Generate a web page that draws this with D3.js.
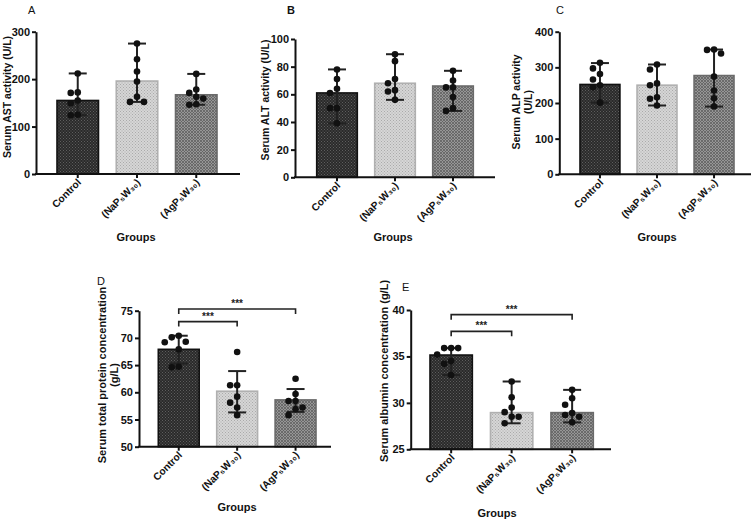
<!DOCTYPE html>
<html><head><meta charset="utf-8">
<script src="https://cdn.jsdelivr.net/npm/d3@7"></script>
<style>body{margin:0;background:#fff}svg{display:block}text{font-family:"Liberation Sans",Arial,sans-serif}</style>
</head><body>
<svg id="c" width="756" height="523"></svg>
<script>
const groups = ["Control", "(NaP\u2085W\u2083\u2080)", "(AgP\u2085W\u2083\u2080)"];

const astMean = [155, 196, 167];
const astPoints = [[212,172,171,155,149,125,124],[275,242,216,195,163,152,152],[211,178,171,163,159,147,146]];
const astErr = [[124,212],[152,275],[146,211]];
const astTicks = [0,100,200,300];

const altMean = [61, 68, 66];
const altPoints = [[78,71,64,61,50,50,39],[89,84,71,68,63,62,56],[77,70,65,65,58,50,48]];
const altErr = [[39,78],[56,89],[48,77]];
const altTicks = [0,20,40,60,80,100];

const alpMean = [252, 250, 277];
const alpPoints = [[313,297,281,266,250,244,201],[308,294,255,250,216,212,193],[350,349,339,274,235,213,190]];
const alpErr = [[201,312],[193,308],[190,350]];
const alpTicks = [0,100,200,300,400];

const tpMean = [67.9, 60.2, 58.6];
const tpPoints = [[70.4,70.1,69.3,69.2,67.9,64.7,64.6],[67.4,61.3,61.3,59.2,58.1,57.2,55.8],[62.5,59.7,58.4,58.4,57.2,56.9,55.8]];
const tpErr = [[65.3,70.4],[56.3,63.9],[56.4,60.6]];
const tpTicks = [50,55,60,65,70,75];
const tpSig = [[0,2,75.3],[0,1,73.0]];

const albMean = [35.15, 28.95, 28.95];
const albPoints = [[35.9,35.9,35.9,35.2,34.5,34.2,33.0],[32.3,30.6,29.5,29.0,28.5,28.5,27.8],[31.4,30.5,29.8,28.9,28.7,28.5,27.9]];
const albErr = [[33.0,35.9],[27.8,32.3],[27.9,31.4]];
const albTicks = [25,30,35,40];
const albSig = [[0,2,39.5],[0,1,37.7]];

const svg = d3.select("#c");
const defs = svg.append("defs");
function mkPat(id, bg, fg, type){
  const p = defs.append("pattern").attr("id", id).attr("patternUnits","userSpaceOnUse").attr("width",3).attr("height",3);
  p.append("rect").attr("width",3).attr("height",3).attr("fill",bg);
  if(type==="dot"){
    p.append("rect").attr("x",0).attr("y",0).attr("width",1).attr("height",1).attr("fill",fg);
    p.append("rect").attr("x",1.5).attr("y",1.5).attr("width",1).attr("height",1).attr("fill",fg);
  } else {
    p.append("path").attr("d","M0,0L3,3M3,0L0,3").attr("stroke",fg).attr("stroke-width",0.8);
  }
}
mkPat("p0","#2a2a2a","#5e5e5e","dot");
mkPat("p1","#d6d6d6","#aaaaaa","dot");
mkPat("p2","#969696","#606060","x");
const fills = ["url(#p0)","url(#p1)","url(#p2)"];
const strokes = ["#111","#b0b0b0","#6a6a6a"];

function panel(cfg){
  const g = svg.append("g");
  const y = d3.scaleLinear().domain(cfg.domain).range(cfg.yr);
  const x = d3.scaleBand().domain(groups).range(cfg.br).paddingInner(0.3).paddingOuter(0);
  const bw = x.bandwidth();
  g.selectAll(".bar").data(cfg.mean).join("rect")
    .attr("x",(d,i)=>x(groups[i])).attr("width",bw)
    .attr("y",d=>y(d)).attr("height",d=>y(cfg.domain[0])-y(d))
    .attr("fill",(d,i)=>fills[i]).attr("stroke",(d,i)=>strokes[i]).attr("stroke-width",1.6);
  cfg.err.forEach((e,i)=>{
    const cx = x(groups[i])+bw/2;
    g.append("line").attr("x1",cx).attr("x2",cx).attr("y1",y(e[0])).attr("y2",y(e[1])).attr("stroke","#222").attr("stroke-width",2);
    [e[0],e[1]].forEach(v=>g.append("line").attr("x1",cx-9).attr("x2",cx+9).attr("y1",y(v)).attr("y2",y(v)).attr("stroke","#222").attr("stroke-width",2));
  });
  const r = 3.3, d = 7;
  cfg.points.forEach((pts,i)=>{
    const cx = x(groups[i])+bw/2;
    const placed = [];
    pts.slice().sort((a,b)=>b-a).forEach(v=>{
      const py = y(v);
      const offs = [0,-d,d,-2*d,2*d,-3*d,3*d];
      let ox = 0;
      for(const o of offs){
        if(placed.every(p=>Math.hypot(p[0]-(cx+o),p[1]-py) >= 2*r+0.3)){ ox=o; break; }
      }
      placed.push([cx+ox,py]);
    });
    g.selectAll(null).data(placed).join("circle").attr("cx",p=>p[0]).attr("cy",p=>p[1]).attr("r",r).attr("fill","#111");
  });
  const ya = g.append("g").attr("transform",`translate(${cfg.ax},0)`)
    .call(d3.axisLeft(y).tickValues(cfg.ticks).tickSize(4).tickSizeOuter(0).tickPadding(2));
  ya.select(".domain").attr("stroke","#111").attr("stroke-width",2);
  ya.selectAll(".tick line").attr("stroke","#111").attr("stroke-width",2);
  ya.selectAll(".tick text").attr("font-size",11).attr("font-weight","bold").attr("fill","#111");
  const x0 = y(cfg.domain[0]);
  g.append("line").attr("x1",cfg.ax-1).attr("x2",cfg.xe).attr("y1",x0).attr("y2",x0).attr("stroke","#111").attr("stroke-width",2);
  groups.forEach((gr,i)=>{
    const cx = x(gr)+bw/2;
    g.append("line").attr("x1",cx).attr("x2",cx).attr("y1",x0).attr("y2",x0+4).attr("stroke","#111").attr("stroke-width",2);
    g.append("text").attr("transform",`translate(${cx+4},${x0+9}) rotate(-45)`)
      .attr("text-anchor","end").attr("font-size",10.2).attr("font-weight","bold").attr("fill","#111").text(gr);
  });
  g.append("text").attr("x",cfg.gx).attr("y",cfg.gy).attr("text-anchor","middle").attr("font-size",11).attr("font-weight","bold").attr("fill","#111").text("Groups");
  cfg.yl.forEach((t,k)=>{
    g.append("text").attr("transform",`translate(${cfg.ylx+k*11.5},${cfg.yly}) rotate(-90)`)
      .attr("text-anchor","middle").attr("font-size",cfg.yfs||10.5).attr("font-weight","bold").attr("fill","#111").text(t);
  });
  g.append("text").attr("x",cfg.lx).attr("y",cfg.ly).attr("font-size",11).attr("font-weight",cfg.lb?"bold":"normal").attr("fill","#111").text(cfg.letter);
  (cfg.sig||[]).forEach(s=>{
    const a = x(groups[s[0]])+bw/2, b = x(groups[s[1]])+bw/2, yy = y(s[2]);
    g.append("path").attr("d",`M${a},${yy+5}V${yy}H${b}V${yy+5}`).attr("fill","none").attr("stroke","#222").attr("stroke-width",1.6);
    g.append("text").attr("x",(a+b)/2).attr("y",yy-2).attr("text-anchor","middle").attr("font-size",10).attr("font-weight","bold").attr("fill","#222").text("***");
  });
}

panel({domain:[0,300],yr:[174,31.7],br:[57,217],ax:36,xe:240,mean:astMean,points:astPoints,err:astErr,ticks:astTicks,
  yl:["Serum AST activity (U/L)"],ylx:11,yly:97,gx:136,gy:241,letter:"A",lx:28,ly:14,lb:false});
panel({domain:[0,100],yr:[177.3,39],br:[316.7,473.3],ax:295,xe:495,mean:altMean,points:altPoints,err:altErr,ticks:altTicks,
  yl:["Serum  ALT activity (U/L)"],ylx:269,yly:100,gx:393,gy:241,letter:"B",lx:287,ly:14,lb:true});
panel({domain:[0,400],yr:[174.3,31.7],br:[580,734],ax:559.3,xe:751,mean:alpMean,points:alpPoints,err:alpErr,ticks:alpTicks,
  yl:["Serum ALP activity","(U/L)"],ylx:520,yly:102,gx:657,gy:241,letter:"C",lx:556,ly:14,lb:false});
panel({domain:[50,75],yr:[446.7,310.7],br:[158.3,316],ax:139,xe:331,mean:tpMean,points:tpPoints,err:tpErr,ticks:tpTicks,sig:tpSig,yfs:11,
  yl:["Serum total protein concentration","(g/L)"],ylx:106,yly:375,gx:237,gy:511,letter:"D",lx:97,ly:285,lb:false});
panel({domain:[25,40],yr:[449.3,310],br:[430,593.3],ax:410.7,xe:611,mean:albMean,points:albPoints,err:albErr,ticks:albTicks,sig:albSig,yfs:11,
  yl:["Serum albumin concentration (g/L)"],ylx:388,yly:371,gx:497,gy:517,letter:"E",lx:402,ly:291,lb:false});
</script>
</body></html>
